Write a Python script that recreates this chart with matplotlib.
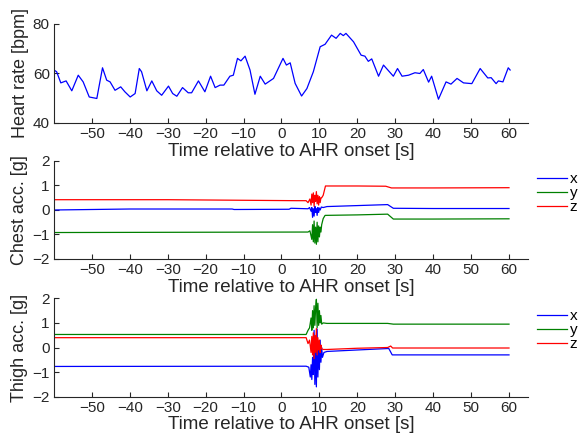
import matplotlib

matplotlib.use("Agg")
import matplotlib.pyplot as plt  # noqa: E402

plt.rcParams["font.family"] = ["Liberation Sans", "DejaVu Sans"]

# heart rate
hr_t = [-60, -59.3, -58.2, -56.8, -55.3, -53.6, -52.3, -50.7, -48.7, -47.2, -46.1, -45.2,
        -43.9, -42.4, -41.3, -39.9, -38.6, -37.5, -36.9, -35.5, -34.2, -32.9, -31.6, -29.8,
        -28.7, -27.6, -26.1, -24.6, -23.7, -21.9, -20.2, -18.7, -17.5, -16.2, -15.2, -13.6,
        -12.7, -11.6, -10.7, -9.6, -8.3, -7.0, -5.6, -4.3, -2.1, 0.4, 1.3, 2.3, 3.6, 5.3,
        6.7, 8.4, 10.2, 11.5, 13.2, 14.4, 15.5, 16.3, 17.0, 19.0, 21.0, 22.0, 22.9, 23.8,
        25.6, 26.9, 29.5, 30.6, 31.8, 33.5, 35.2, 36.5, 37.4, 38.8, 39.6, 41.4, 43.4, 44.7,
        46.3, 48.0, 50.2, 52.4, 54.4, 55.3, 56.6, 57.2, 58.4, 59.8, 60.3]
hr_v = [61.4, 60.7, 56.2, 57.0, 53.0, 59.3, 56.6, 50.5, 49.9, 62.3, 57.3, 56.6,
        53.2, 54.6, 52.6, 50.5, 51.9, 62.0, 60.7, 53.0, 57.0, 53.0, 51.2, 54.9,
        51.9, 50.8, 54.3, 52.2, 52.2, 57.0, 52.6, 58.9, 54.3, 55.3, 55.3, 58.9,
        59.3, 66.1, 65.1, 67.0, 61.4, 51.6, 58.9, 55.7, 58.0, 66.1, 63.4, 64.3, 56.0, 50.9,
        53.9, 60.7, 70.8, 71.8, 75.5, 74.2, 76.2, 75.3, 76.2, 72.8, 67.4, 67.0, 64.9, 65.9,
        58.9, 63.4, 58.9, 62.0, 58.9, 59.3, 60.3, 60.0, 61.6, 56.5, 58.9, 49.6, 56.6, 55.7,
        58.0, 56.2, 55.9, 62.0, 58.2, 58.3, 55.9, 57.0, 56.6, 62.3, 61.4]

# chest accelerometer [g]
chest_x_t = [-60, -40, -13, -12.5, 2, 2.5, 7, 7.4, 7.8, 8.0, 8.2, 8.4, 8.6, 8.8, 9.0, 9.2,
             9.4, 9.6, 9.8, 10.0, 10.2, 10.5, 11, 12, 20, 28, 29.5, 40, 60]
chest_x_v = [0.0, 0.04, 0.04, 0.02, 0.03, 0.07, 0.05, 0.1, -0.05, 0.1, -0.3, 0.05, -0.25,
             0.15, -0.1, 0.05, -0.22, 0.1, -0.1, 0.08, 0.0, 0.12, 0.1, 0.14, 0.18, 0.22,
             0.07, 0.06, 0.06]
chest_y_t = [-60, 7, 7.5, 8.0, 8.2, 8.4, 8.6, 8.8, 9.0, 9.2, 9.4, 9.6, 9.8, 10.0, 10.2,
             10.4, 10.6, 11.0, 11.5, 20, 28, 29.5, 40, 60]
chest_y_v = [-0.92, -0.9, -0.85, -1.2, -0.6, -1.3, -0.45, -1.35, -0.7, -1.4, -0.5, -1.3,
             -0.65, -1.1, -0.7, -0.9, -0.6, -0.35, -0.22, -0.2, -0.17, -0.37, -0.37, -0.36]
chest_z_t = [-60, -30, 4, 6.5, 7.0, 7.5, 7.8, 8.0, 8.2, 8.4, 8.6, 8.8, 9.0, 9.2, 9.4, 9.6,
             9.8, 10.0, 10.2, 10.4, 10.6, 11.0, 11.6, 20, 27.5, 29, 40, 60]
chest_z_v = [0.42, 0.42, 0.38, 0.38, 0.3, 0.45, 0.2, 0.65, 0.3, 0.7, 0.15, 0.6, 0.35, 0.75,
             0.25, 0.6, 0.2, 0.55, 0.3, 0.5, 0.5, 0.6, 0.98, 0.98, 0.97, 0.9, 0.9, 0.91]

# thigh accelerometer [g]
thigh_x_t = [-60, 6.5, 7.2, 7.6, 7.8, 8.0, 8.2, 8.4, 8.6, 8.8, 9.0, 9.2, 9.4, 9.6, 9.8,
             10.0, 10.2, 10.4, 10.6, 10.8, 11.2, 12, 20, 28.3, 29.2, 40, 60]
thigh_x_v = [-0.77, -0.76, -0.8, -1.2, -0.7, -1.3, -0.4, -1.1, 0.7, -1.5, 0.3, -1.6, 0.75,
             -1.2, 0.2, -0.9, 0.3, -0.6, 0.0, -0.4, -0.2, -0.16, -0.1, -0.04, -0.3, -0.3,
             -0.3]
thigh_y_t = [-60, 6.5, 7.0, 7.4, 7.8, 8.0, 8.2, 8.4, 8.6, 8.8, 9.0, 9.2, 9.4, 9.6, 9.8,
             10.0, 10.2, 10.4, 10.6, 11.0, 12, 28, 29.5, 40, 60]
thigh_y_v = [0.53, 0.53, 0.7, 0.8, 1.2, 0.7, 1.5, 0.8, 1.7, 0.9, 1.6, 1.96, 0.8, 1.8, 0.9,
             1.5, 1.0, 1.3, 0.95, 1.0, 0.98, 0.98, 0.95, 0.95, 0.95]
thigh_z_t = [-60, 6.5, 7.0, 7.4, 7.8, 8.0, 8.2, 8.4, 8.6, 8.8, 9.0, 9.2, 9.4, 9.6, 9.8,
             10.0, 10.2, 10.4, 10.6, 11.0, 12, 20, 28, 28.8, 29.3, 40, 60]
thigh_z_v = [0.4, 0.4, 0.16, 0.3, -0.2, 0.45, -0.3, 0.6, -0.45, 0.5, -0.2, 0.77, -0.3, 0.4,
             -0.1, 0.3, -0.2, 0.1, -0.05, -0.08, -0.08, -0.03, 0.0, 0.06, -0.02, -0.02,
             -0.02]

x_ticks = list(range(-50, 61, 10))
x_label = "Time relative to AHR onset [s]"
axis_col = "#262626"
c_blue, c_green, c_red = "#0000ff", "#008000", "#ff0000"

fig = plt.figure(figsize=(5.81, 4.40), dpi=100)
ax_hr = fig.add_axes([0.0929, 0.7205, 0.8158, 0.2250])
ax_ch = fig.add_axes([0.0929, 0.4114, 0.8158, 0.2227])
ax_th = fig.add_axes([0.0929, 0.0984, 0.8158, 0.2236])

ax_hr.plot(hr_t, hr_v, color=c_blue, lw=0.9)
ax_hr.set_ylim(40, 80)
ax_hr.set_yticks([40, 60, 80])
ax_hr.set_ylabel("Heart rate [bpm]", fontsize=13, color=axis_col, labelpad=3)

for ax, data, ylab, leg_top in [
    (ax_ch, [(chest_x_t, chest_x_v), (chest_y_t, chest_y_v), (chest_z_t, chest_z_v)], "Chest acc. [g]", 0.888),
    (ax_th, [(thigh_x_t, thigh_x_v), (thigh_y_t, thigh_y_v), (thigh_z_t, thigh_z_v)], "Thigh acc. [g]", 0.89),
]:
    for (t, v), col, name in zip(data, [c_blue, c_green, c_red], ["x", "y", "z"]):
        ax.plot(t, v, color=col, lw=0.9, label=name)
    ax.set_ylim(-2, 2)
    ax.set_yticks([-2, -1, 0, 1, 2])
    ax.set_ylabel(ylab, fontsize=13, color=axis_col, labelpad=3)
    ax.legend(loc="upper left", bbox_to_anchor=(1.019, leg_top), frameon=False, fontsize=11,
              handlelength=1.95, handletextpad=0.2, labelspacing=0.0, borderaxespad=0.0,
              borderpad=0.0)

for ax in (ax_hr, ax_ch, ax_th):
    ax.set_xlim(-60, 65)
    ax.set_xticks(x_ticks)
    ax.set_xlabel(x_label, fontsize=13.5, color=axis_col, labelpad=1)
    ax.spines["top"].set_visible(False)
    ax.spines["right"].set_visible(False)
    for s in ("left", "bottom"):
        ax.spines[s].set_color(axis_col)
        ax.spines[s].set_linewidth(0.8)
    ax.tick_params(direction="in", length=3.5, width=0.8, color=axis_col,
                   labelsize=11, labelcolor=axis_col, pad=3)

fig.savefig("out.png", dpi=100)
